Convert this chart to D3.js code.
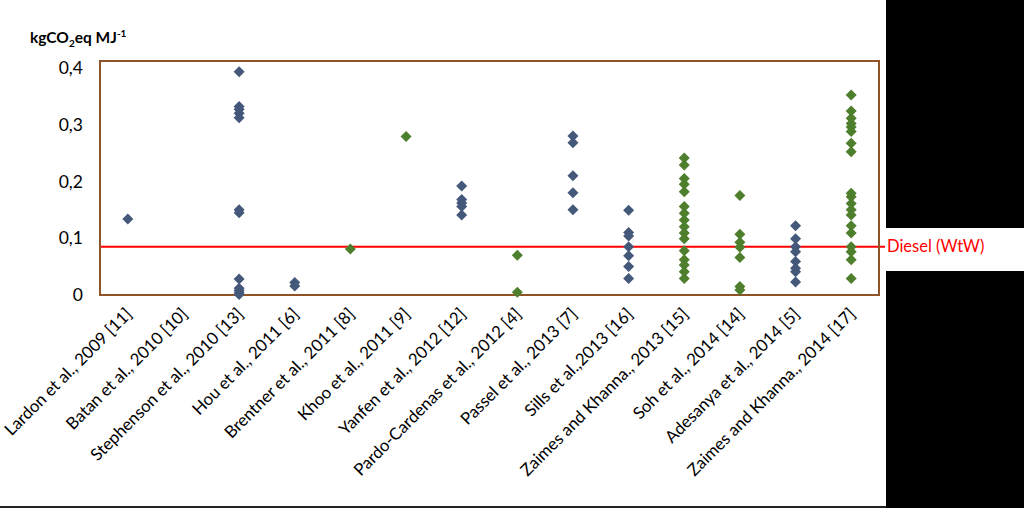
<!DOCTYPE html>
<html><head><meta charset="utf-8">
<script src="https://cdn.jsdelivr.net/npm/d3@7"></script>
<style>html,body{margin:0;padding:0;background:#fff;}svg{display:block;}</style>
</head><body>
<script>
const categories = ["Lardon et al., 2009 [11]","Batan et al., 2010 [10]","Stephenson et al., 2010 [13]","Hou et al., 2011 [6]","Brentner et al., 2011 [8]","Khoo et al., 2011 [9]","Yanfen et al., 2012 [12]","Pardo-Cardenas et al., 2012 [4]","Passel et al., 2013 [7]","Sills et al.,2013 [16]","Zaimes and Khanna., 2013 [15]","Soh et al., 2014 [14]","Adesanya et al., 2014 [5]","Zaimes and Khanna., 2014 [17]"];
const seriesColor = ["blue","blue","blue","blue","green","green","blue","green","blue","blue","green","green","blue","green"];
const lardon = [0.134];
const batan = [];
const stephenson = [0.393,0.332,0.327,0.320,0.312,0.150,0.145,0.028,0.012,0.008,0.004,0.001];
const hou = [0.022,0.016];
const brentner = [0.081];
const khoo = [0.279];
const yanfen = [0.192,0.168,0.162,0.156,0.141];
const pardo = [0.070,0.005];
const passel = [0.280,0.268,0.210,0.180,0.150];
const sills = [0.149,0.110,0.104,0.085,0.069,0.050,0.029];
const zaimes2013 = [0.241,0.229,0.205,0.195,0.182,0.156,0.144,0.132,0.120,0.109,0.099,0.078,0.062,0.053,0.041,0.029];
const soh = [0.175,0.107,0.093,0.084,0.066,0.015,0.009];
const adesanya = [0.122,0.099,0.085,0.076,0.059,0.047,0.041,0.023];
const zaimes2014 = [0.352,0.324,0.311,0.302,0.296,0.288,0.267,0.252,0.179,0.173,0.161,0.150,0.141,0.122,0.109,0.085,0.076,0.062,0.029];
const allValues = [lardon,batan,stephenson,hou,brentner,khoo,yanfen,pardo,passel,sills,zaimes2013,soh,adesanya,zaimes2014];
const yTicks = [0,0.1,0.2,0.3,0.4];
const yTickLabels = ["0","0,1","0,2","0,3","0,4"];
const diesel = 0.085;

(function(){
const W=1024,H=508;
const svg = d3.select("body").append("svg").attr("width",W).attr("height",H);
svg.append("rect").attr("width",W).attr("height",H).attr("fill","#fff");

const pLeft=100,pRight=879,pTop=61,pBottom=295;
const x = d3.scalePoint().domain(categories).range([pLeft,pRight]).padding(0.5);
const y = d3.scaleLinear().domain([0,0.412]).range([pBottom,pTop]);
const colors = {blue:"#44587A", green:"#4E7F2C"};
const font = "Lato, 'Open Sans', sans-serif";

svg.append("g").selectAll("text").data(yTicks).join("text")
  .attr("x",83).attr("y",d=>y(d)).attr("dy","0.35em").attr("text-anchor","end")
  .attr("font-family",font).attr("font-size",17.5).attr("fill","#000")
  .text((d,i)=>yTickLabels[i]);

const t = svg.append("text").attr("x",30).attr("y",43).attr("font-family",font)
  .attr("font-weight","bold").attr("font-size",15.5).attr("fill","#000");
t.append("tspan").text("kgCO");
t.append("tspan").attr("font-size",10).attr("dy",4).text("2");
t.append("tspan").attr("dy",-4).text("eq MJ");
t.append("tspan").attr("font-size",10).attr("dy",-6).text("-1");

svg.append("line").attr("x1",pLeft).attr("x2",885).attr("y1",y(diesel)).attr("y2",y(diesel))
  .attr("stroke","#FF0000").attr("stroke-width",2);

svg.append("rect").attr("x",pLeft).attr("y",pTop).attr("width",pRight-pLeft).attr("height",pBottom-pTop)
  .attr("fill","none").attr("stroke","#8E5428").attr("stroke-width",2);

const pts = [];
allValues.forEach((arr,i)=>arr.forEach(v=>pts.push({c:categories[i],v,col:seriesColor[i]})));
const r=5.5;
svg.append("g").selectAll("path").data(pts).join("path")
  .attr("transform",d=>`translate(${x(d.c)},${y(d.v)})`)
  .attr("d",`M0,${-r}L${r},0L0,${r}L${-r},0Z`)
  .attr("fill",d=>colors[d.col]);

svg.append("g").selectAll("text").data(categories).join("text")
  .attr("transform",d=>`translate(${x(d)+1},${pBottom+16}) rotate(-45)`)
  .attr("text-anchor","end").attr("dy","0.35em")
  .attr("font-family",font).attr("font-size",16.8).attr("fill","#000")
  .text(d=>d);

svg.append("rect").attr("x",886).attr("y",0).attr("width",W-886).attr("height",228).attr("fill","#000");
svg.append("rect").attr("x",886).attr("y",271).attr("width",W-886).attr("height",H-271).attr("fill","#000");
svg.append("rect").attr("x",0).attr("y",506).attr("width",886).attr("height",2).attr("fill","#222");

svg.append("text").attr("x",887).attr("y",y(diesel)).attr("dy","0.35em")
  .attr("font-family",font).attr("font-size",16.5).attr("fill","#FF0000").text("Diesel (WtW)");
})();
</script>
</body></html>
